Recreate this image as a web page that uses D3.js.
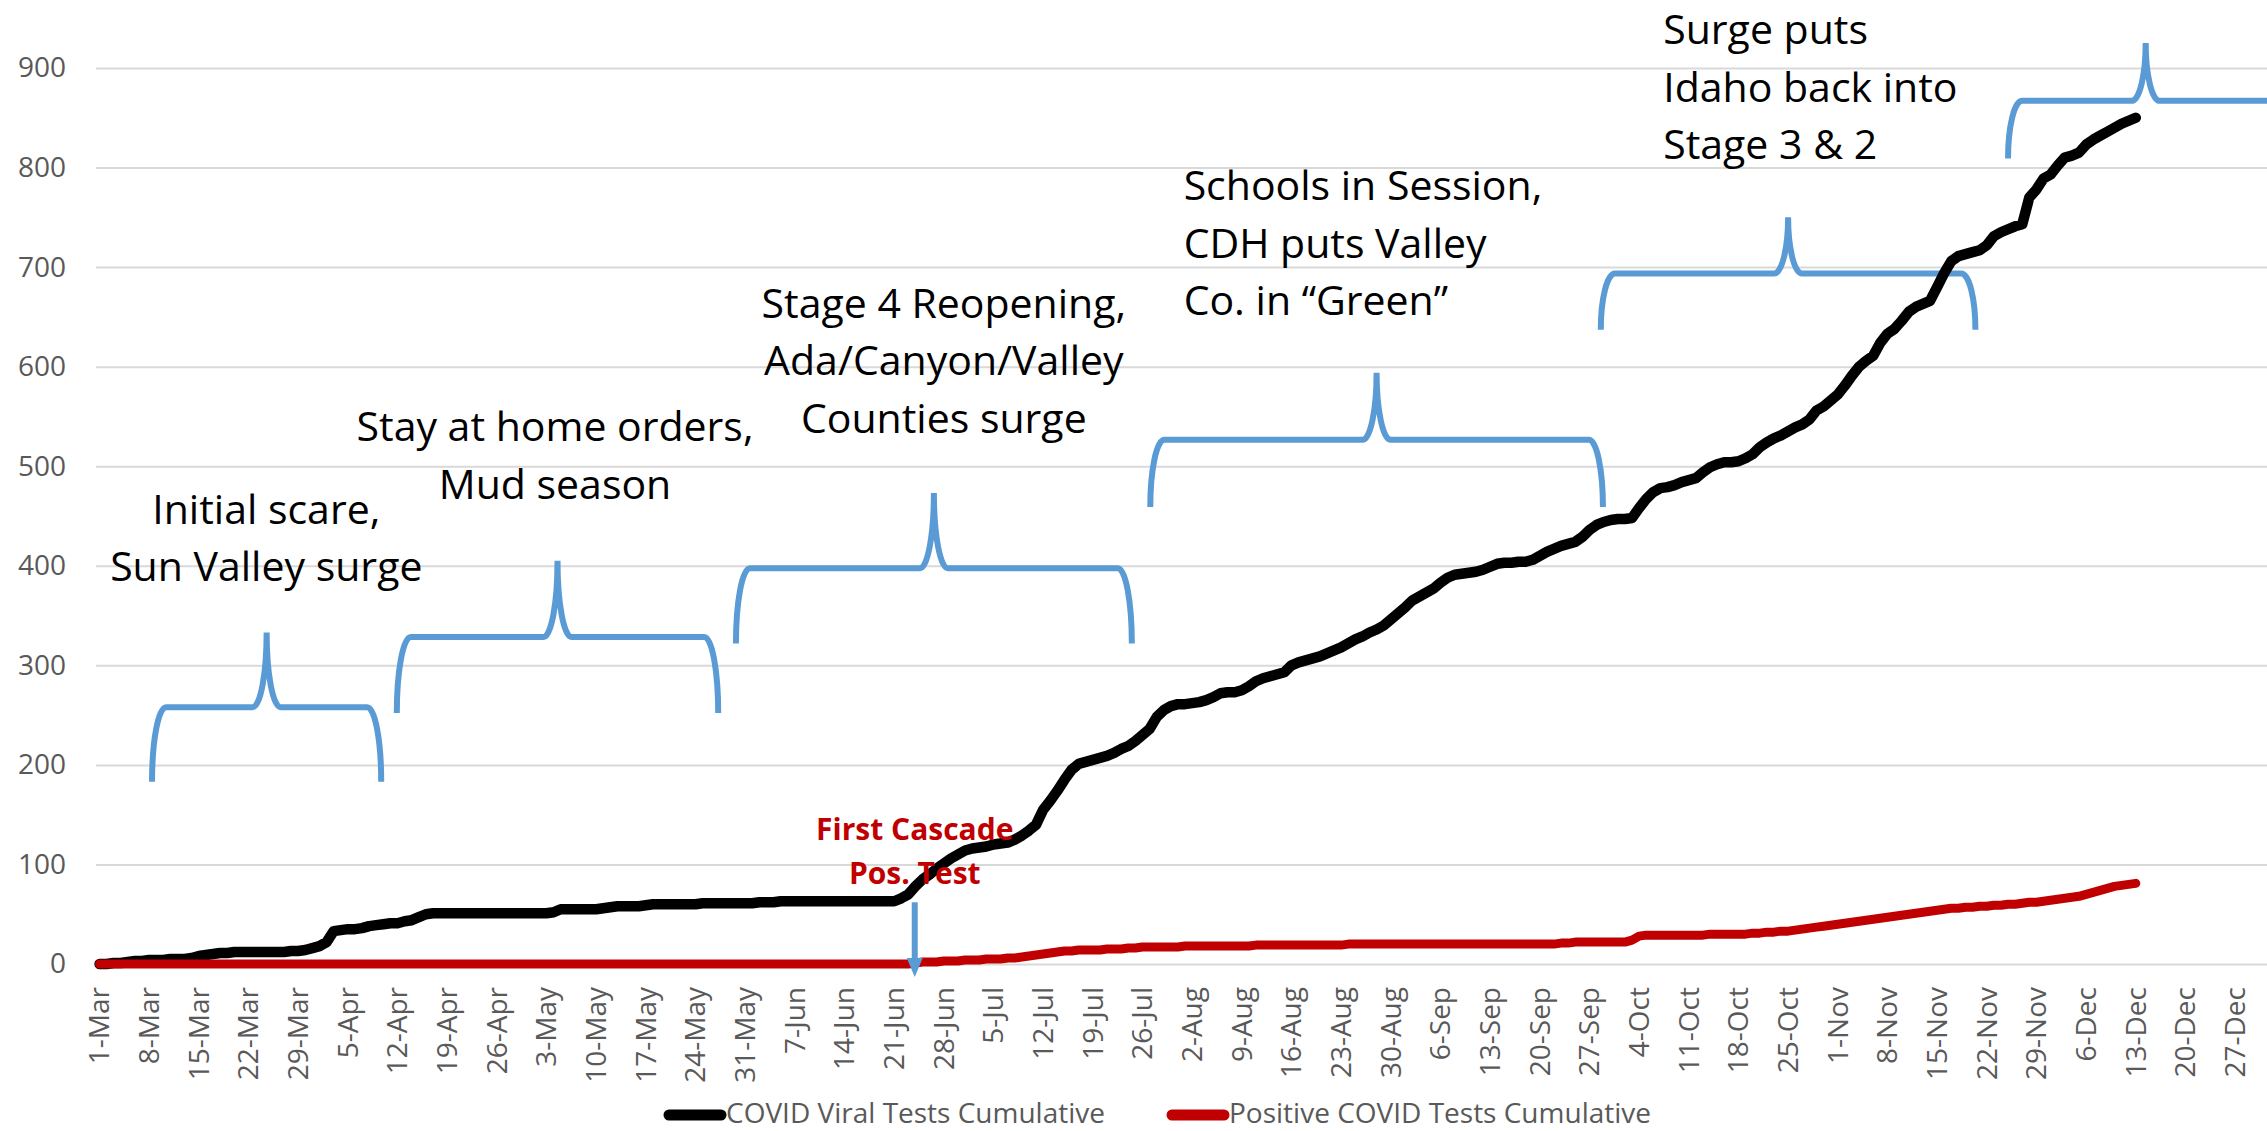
<!DOCTYPE html>
<html>
<head>
<meta charset="utf-8">
<script src="https://cdn.jsdelivr.net/npm/d3@7"></script>
<style>
  body { margin: 0; background: #ffffff; }
  svg { display: block; }
</style>
</head>
<body>
<div id="chart"></div>
<script>
// category axis: one slot per day, label every 7th day
var axisStart = "2020-03-01";
var axisEnd = "2020-12-31";
var labelEvery = 7;
var yTicks = [0, 100, 200, 300, 400, 500, 600, 700, 800, 900];

var seriesNames = ["COVID Viral Tests Cumulative", "Positive COVID Tests Cumulative"];
var seriesColors = ["#000000", "#c00000"];

// daily values starting 1-Mar
var viralTests = [
  // Mar
  0,0,1,1,2,3,3,4,4,4, 5,5,5,6,8,9,10,11,11,12, 12,12,12,12,12,12,12,13,13,14, 16,
  // Apr
  18,22,33,34,35,35,36,38,39,40, 41,41,43,44,47,50,51,51,51,51, 51,51,51,51,51,51,51,51,51,51,
  // May
  51,51,51,52,55,55,55,55,55,55, 56,57,58,58,58,58,59,60,60,60, 60,60,60,60,61,61,61,61,61,61, 61,
  // Jun
  61,62,62,62,63,63,63,63,63,63, 63,63,63,63,63,63,63,63,63,63, 63,66,70,78,85,90,96,101,106,110,
  // Jul
  114,116,117,118,120,121,122,125,129,134, 140,155,164,174,185,195,201,203,205,207, 209,212,216,219,224,230,236,248,255,259, 261,
  // Aug
  261,262,263,265,268,272,273,273,275,279, 284,287,289,291,293,300,303,305,307,309, 312,315,318,322,326,329,333,336,340,346, 352,
  // Sep
  358,365,369,373,377,383,388,391,392,393, 394,396,399,402,403,403,404,404,406,410, 414,417,420,422,424,429,436,441,444,446,
  // Oct
  447,447,448,458,467,474,478,479,481,484, 486,488,494,499,502,504,504,505,508,512, 519,524,528,531,535,539,542,547,556,560, 566,
  // Nov
  572,581,591,600,606,611,624,633,638,646, 655,660,663,666,680,694,706,711,713,715, 717,722,731,735,738,741,743,770,778,789,
  // Dec 1-13
  793,802,810,812,815,823,828,832,836,840, 844,847,850
];

var positiveTests = [
  // Mar
  0,0,0,0,0,0,0,0,0,0, 0,0,0,0,0,0,0,0,0,0, 0,0,0,0,0,0,0,0,0,0, 0,
  // Apr
  0,0,0,0,0,0,0,0,0,0, 0,0,0,0,0,0,0,0,0,0, 0,0,0,0,0,0,0,0,0,0,
  // May
  0,0,0,0,0,0,0,0,0,0, 0,0,0,0,0,0,0,0,0,0, 0,0,0,0,0,0,0,0,0,0, 0,
  // Jun
  0,0,0,0,0,0,0,0,0,0, 0,0,0,0,0,0,0,0,0,0, 0,0,0,1,2,2,2,3,3,3,
  // Jul
  4,4,4,5,5,5,6,6,7,8, 9,10,11,12,13,13,14,14,14,14, 15,15,15,16,16,17,17,17,17,17, 17,
  // Aug
  18,18,18,18,18,18,18,18,18,18, 19,19,19,19,19,19,19,19,19,19, 19,19,19,20,20,20,20,20,20,20, 20,
  // Sep
  20,20,20,20,20,20,20,20,20,20, 20,20,20,20,20,20,20,20,20,20, 20,20,21,21,22,22,22,22,22,22,
  // Oct
  22,22,24,28,29,29,29,29,29,29, 29,29,29,30,30,30,30,30,30,31, 31,32,32,33,33,34,35,36,37,38, 39,
  // Nov
  40,41,42,43,44,45,46,47,48,49, 50,51,52,53,54,55,56,56,57,57, 58,58,59,59,60,60,61,62,62,63,
  // Dec 1-13
  64,65,66,67,68,70,72,74,76,78, 79,80,81
];

// text boxes placed in chart units (day index, value)
var notes = [
  { day: 23.5, value: 442, anchor: "middle", lines: ["Initial scare,", "Sun Valley surge"] },
  { day: 64.2, value: 525, anchor: "middle", lines: ["Stay at home orders,", "Mud season"] },
  { day: 119, value: 649, anchor: "middle", lines: ["Stage 4 Reopening,", "Ada/Canyon/Valley", "Counties surge"] },
  { day: 152.8, value: 767, anchor: "start", lines: ["Schools in Session,", "CDH puts Valley", "Co. in \u201cGreen\u201d"] },
  { day: 220.4, value: 924, anchor: "start", lines: ["Surge puts", "Idaho back into", "Stage 3 & 2"] }
];

// curly braces: day span, value of leg ends and of the tip
var braces = [
  { from: 7.4, to: 39.7, low: 183, high: 333 },
  { from: 41.9, to: 87.2, low: 252, high: 405 },
  { from: 89.7, to: 145.5, low: 322, high: 473 },
  { from: 148.1, to: 211.9, low: 459, high: 594 },
  { from: 211.6, to: 264.4, low: 637, high: 750 },
  { from: 269, to: 307.8, low: 809, high: 925 }
];

var firstPositive = { day: 114.9, from: 62, to: -13, lines: ["First Cascade", "Pos. Test"], textValue: 124.5 };

var svgWidth = 2267;
var svgHeight = 1131;
var plotLeft = 96, plotRight = 2267, plotTop = 68, plotBottom = 964;

var svg = d3.select("#chart")
  .append("svg")
  .attr("width", svgWidth)
  .attr("height", svgHeight)
  .style("font-family", "'Open Sans', sans-serif");

var parse = d3.timeParse("%Y-%m-%d");
var days = d3.timeDay.range(parse(axisStart), d3.timeDay.offset(parse(axisEnd), 1));
var fmt = d3.timeFormat("%-d-%b");

var xScale = d3.scaleBand()
  .domain(days)
  .range([plotLeft, plotRight])
  .padding(0);

var step = xScale.step();
// position of a (possibly fractional) day index
var xDay = i => xScale(days[0]) + step / 2 + i * step;

var yScale = d3.scaleLinear()
  .domain([0, 900])
  .range([plotBottom, plotTop]);

// gridlines + y labels
var yAxis = d3.axisLeft(yScale)
  .tickValues(yTicks)
  .tickSize(-(plotRight - plotLeft))
  .tickPadding(30);

var yAxisG = svg.append("g")
  .attr("transform", `translate(${plotLeft},0)`)
  .call(yAxis);
yAxisG.select(".domain").remove();
yAxisG.selectAll("line").attr("stroke", "#d9d9d9").attr("stroke-width", 2);
yAxisG.selectAll("text")
  .attr("fill", "#595959")
  .style("font-size", "28px")
  .style("font-family", "'Open Sans', sans-serif");

// x labels
var xAxis = d3.axisBottom(xScale)
  .tickValues(days.filter((d, i) => i % labelEvery === 0))
  .tickFormat(fmt)
  .tickSize(0);

var xAxisG = svg.append("g")
  .attr("transform", `translate(0,${plotBottom})`)
  .call(xAxis);
xAxisG.select(".domain").remove();
xAxisG.selectAll("text")
  .attr("transform", "rotate(-90)")
  .attr("text-anchor", "end")
  .attr("x", -23)
  .attr("y", 0)
  .attr("dy", "0.35em")
  .attr("fill", "#595959")
  .style("font-size", "28px")
  .style("font-family", "'Open Sans', sans-serif");

// braces
var braceColor = "#5b9bd5";
braces.forEach(function(b) {
  var L = xDay(b.from), R = xDay(b.to), C = (L + R) / 2;
  var yB = yScale(b.low), yT = yScale(b.high), yM = (yB + yT) / 2;
  var h = yB - yM, rx = 14;
  var p = `M${L},${yB} A${rx},${h} 0 0 1 ${L + rx},${yM} L${C - rx},${yM} ` +
    `A${rx},${h} 0 0 0 ${C},${yT} A${rx},${h} 0 0 0 ${C + rx},${yM} ` +
    `L${R - rx},${yM} A${rx},${h} 0 0 1 ${R},${yB}`;
  svg.append("path")
    .attr("d", p)
    .attr("fill", "none")
    .attr("stroke", braceColor)
    .attr("stroke-width", 6);
});

// series lines
var line = d3.line()
  .x((d, i) => xScale(days[i]) + step / 2)
  .y(d => yScale(d));

[viralTests, positiveTests].forEach(function(vals, k) {
  svg.append("path")
    .datum(vals)
    .attr("d", line)
    .attr("fill", "none")
    .attr("stroke", seriesColors[k])
    .attr("stroke-width", k === 0 ? 10.5 : 9)
    .attr("stroke-linejoin", "round")
    .attr("stroke-linecap", "round");
});

// arrow to first positive test
var ax = xDay(firstPositive.day);
var aTop = yScale(firstPositive.from), aTip = yScale(firstPositive.to);
svg.append("line")
  .attr("x1", ax).attr("x2", ax)
  .attr("y1", aTop).attr("y2", aTip - 18)
  .attr("stroke", braceColor)
  .attr("stroke-width", 6);
svg.append("path")
  .attr("d", `M${ax - 8},${aTip - 19} L${ax + 8},${aTip - 19} L${ax},${aTip} Z`)
  .attr("fill", braceColor);

svg.append("text")
  .attr("x", ax)
  .attr("y", yScale(firstPositive.textValue))
  .attr("text-anchor", "middle")
  .attr("fill", "#c00000")
  .style("font-size", "30px")
  .style("font-weight", "bold")
  .selectAll("tspan")
  .data(firstPositive.lines)
  .enter()
  .append("tspan")
  .attr("x", ax)
  .attr("dy", (d, i) => i === 0 ? 0 : 44)
  .text(d => d);

// annotation text
notes.forEach(function(n) {
  svg.append("text")
    .attr("x", xDay(n.day))
    .attr("y", yScale(n.value))
    .attr("text-anchor", n.anchor)
    .attr("fill", "#000000")
    .style("font-size", "41px")
    .selectAll("tspan")
    .data(n.lines)
    .enter()
    .append("tspan")
    .attr("x", xDay(n.day))
    .attr("dy", (d, i) => i === 0 ? 0 : 57.5)
    .text(d => d);
});

// legend
var legendItems = [
  { x: 664, name: seriesNames[0], color: seriesColors[0] },
  { x: 1167, name: seriesNames[1], color: seriesColors[1] }
];
var legend = svg.append("g");
legendItems.forEach(function(it) {
  legend.append("line")
    .attr("x1", it.x + 5).attr("x2", it.x + 57)
    .attr("y1", 1115).attr("y2", 1115)
    .attr("stroke", it.color)
    .attr("stroke-width", 11)
    .attr("stroke-linecap", "round");
  legend.append("text")
    .attr("x", it.x + 62)
    .attr("y", 1123)
    .attr("fill", "#595959")
    .style("font-size", "28px")
    .text(it.name);
});
</script>
</body>
</html>
